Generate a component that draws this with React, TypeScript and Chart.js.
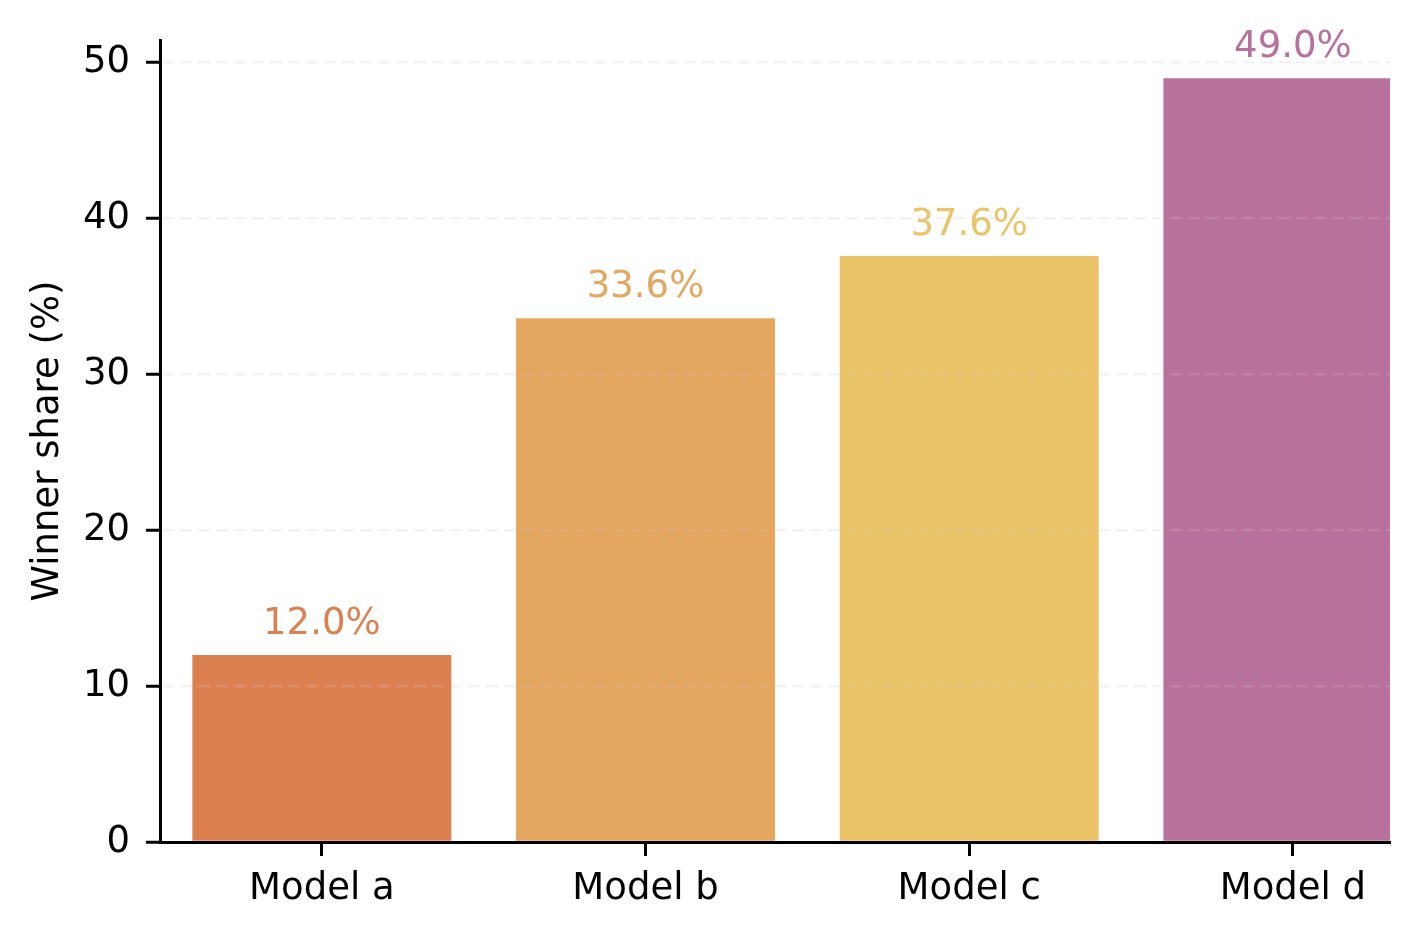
import React, { useEffect, useRef } from "react";
import { Chart, registerables } from "chart.js";

Chart.register(...registerables);

const categories = ["Model a", "Model b", "Model c", "Model d"];
const values = [12.0, 33.6, 37.6, 49.0];
const barColors = ["#DC8050", "#E5A660", "#EBC46A", "#B8719C"];
const yTickValues = [0, 10, 20, 30, 40, 50];
const yAxisTitle = "Winner share (%)";

const FONT = "'DejaVu Sans', sans-serif";
const FONT_SIZE = 37;

const valueLabelPlugin = {
  id: "valueLabels",
  afterDatasetsDraw(chart: any) {
    const ctx = chart.ctx;
    const meta = chart.getDatasetMeta(0);
    ctx.save();
    ctx.font = `${FONT_SIZE}px ${FONT}`;
    ctx.textAlign = "center";
    ctx.textBaseline = "alphabetic";
    meta.data.forEach((bar: any, i: number) => {
      ctx.fillStyle = barColors[i];
      ctx.fillText(`${values[i].toFixed(1)}%`, bar.x, bar.y - 21);
    });
    ctx.restore();
  },
};

export default function App() {
  const canvasRef = useRef<HTMLCanvasElement | null>(null);

  useEffect(() => {
    if (!canvasRef.current) return;
    const chart = new Chart(canvasRef.current, {
      type: "bar",
      data: {
        datasets: [
          {
            data: values.map((v, i) => ({ x: i, y: v })),
            backgroundColor: barColors,
            borderWidth: 0,
            categoryPercentage: 0.8,
            barPercentage: 1,
          },
        ],
      },
      options: {
        animation: false,
        responsive: false,
        maintainAspectRatio: false,
        devicePixelRatio: 1,
        layout: { padding: { left: 0, top: 40, right: 28, bottom: 0 } },
        plugins: {
          legend: { display: false },
          tooltip: { enabled: false },
        },
        scales: {
          x: {
            type: "linear",
            min: -0.5,
            max: 3.3,
            offset: false,
            afterBuildTicks(scale: any) {
              scale.ticks = categories.map((_, i) => ({ value: i }));
            },
            afterFit(scale: any) {
              scale.height = 95;
            },
            grid: {
              display: true,
              drawOnChartArea: false,
              drawTicks: true,
              offset: false,
              tickLength: 14,
              tickWidth: 3,
              tickColor: "#000",
            },
            border: { display: true, color: "#000", width: 3 },
            ticks: {
              color: "#000",
              font: { family: FONT, size: FONT_SIZE },
              padding: 11,
              maxRotation: 0,
              autoSkip: false,
              callback: (v: any) => categories[Number(v)] ?? "",
            },
          },
          y: {
            type: "linear",
            min: 0,
            max: 51.45,
            afterBuildTicks(scale: any) {
              scale.ticks = yTickValues.map((v) => ({ value: v }));
            },
            afterFit(scale: any) {
              scale.width = 160;
            },
            grid: {
              display: true,
              drawOnChartArea: true,
              drawTicks: true,
              z: 1,
              color: (c: any) => (c.tick && c.tick.value === 0 ? "rgba(0,0,0,0)" : "rgba(200,200,200,0.22)"),
              lineWidth: 2.5,
              tickLength: 14,
              tickWidth: 3,
              tickColor: "#000",
              tickBorderDash: [],
            },
            border: { display: true, color: "#000", width: 3, dash: [12, 6], z: 1 },
            ticks: {
              color: "#000",
              font: { family: FONT, size: FONT_SIZE },
              padding: 16,
              autoSkip: false,
              callback: (v: any) => String(v),
            },
            title: {
              display: true,
              text: yAxisTitle,
              color: "#000",
              font: { family: FONT, size: FONT_SIZE },
              padding: { top: 26, bottom: 0 },
            },
          },
        },
      },
      plugins: [valueLabelPlugin],
    });
    return () => chart.destroy();
  }, []);

  return (
    <div style={{ position: "fixed", left: 0, top: 0, width: 1418, height: 937, background: "#fff" }}>
      <canvas ref={canvasRef} width={1418} height={937} style={{ width: 1418, height: 937, display: "block" }} />
    </div>
  );
}
